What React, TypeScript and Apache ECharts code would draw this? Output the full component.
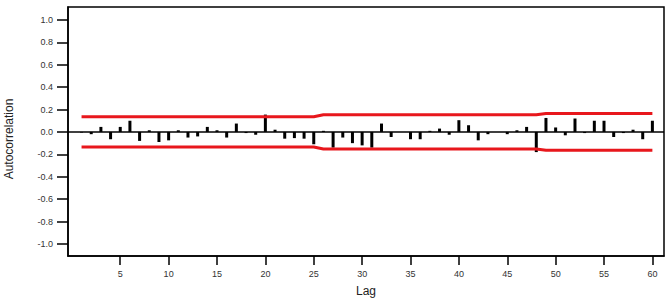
import React, { useEffect, useRef } from "react";
import * as echarts from "echarts";

const lags: number[] = Array.from({ length: 60 }, (_, i) => i + 1);

const acf: number[] = [
  -0.005, -0.02, 0.045, -0.065, 0.045, 0.1, -0.08, 0.015, -0.09, -0.075,
  0.015, -0.05, -0.04, 0.045, 0.015, -0.05, 0.075, -0.01, -0.025, 0.155,
  0.02, -0.06, -0.055, -0.06, -0.11, 0.01, -0.14, -0.05, -0.1, -0.12,
  -0.14, 0.075, -0.045, 0.0, -0.065, -0.065, 0.01, 0.03, -0.025, 0.105,
  0.06, -0.075, -0.02, 0.0, -0.02, 0.015, 0.045, -0.18, 0.125, 0.04,
  -0.03, 0.12, -0.01, 0.1, 0.1, -0.045, -0.01, 0.02, -0.065, 0.1,
];

const upperCL: number[] = [
  0.135, 0.135, 0.135, 0.135, 0.135, 0.135, 0.135, 0.135, 0.135, 0.135,
  0.135, 0.135, 0.135, 0.135, 0.135, 0.135, 0.135, 0.135, 0.135, 0.135,
  0.135, 0.135, 0.135, 0.135, 0.135, 0.153, 0.153, 0.153, 0.153, 0.153,
  0.153, 0.153, 0.153, 0.153, 0.153, 0.153, 0.153, 0.153, 0.153, 0.153,
  0.153, 0.153, 0.153, 0.153, 0.153, 0.153, 0.153, 0.153, 0.164, 0.164,
  0.164, 0.164, 0.164, 0.164, 0.164, 0.164, 0.164, 0.164, 0.164, 0.164,
];

const lowerCL: number[] = upperCL.map((v) => -v);

const xTicks: number[] = [5, 10, 15, 20, 25, 30, 35, 40, 45, 50, 55, 60];
const yTicks: number[] = [-1, -0.8, -0.6, -0.4, -0.2, 0, 0.2, 0.4, 0.6, 0.8, 1];

export default function App() {
  const ref = useRef<HTMLDivElement>(null);
  useEffect(() => {
    if (!ref.current) return;
    const chart = echarts.init(ref.current, undefined, { renderer: "svg" });
    const font = "'Liberation Sans', Arial, sans-serif";
    const red = "#e8171c";
    chart.setOption({
      animation: false,
      backgroundColor: "#fff",
      grid: {
        left: 68,
        right: 6,
        top: 7,
        bottom: 46,
        show: true,
        borderColor: "#000",
        borderWidth: 1.5,
        backgroundColor: "transparent",
      },
      xAxis: {
        type: "value",
        min: -0.4,
        max: 61.2,
        axisLine: { show: true, onZero: false, lineStyle: { color: "#000", width: 1.5 } },
        axisTick: {
          show: true,
          customValues: xTicks,
          length: 9,
          lineStyle: { color: "#000", width: 1.5 },
        },
        axisLabel: {
          customValues: xTicks,
          margin: 13,
          fontSize: 9,
          color: "#333",
          fontFamily: font,
        },
        splitLine: { show: false },
      },
      yAxis: {
        type: "value",
        min: -1.108,
        max: 1.116,
        axisLine: { show: true, onZero: false, lineStyle: { color: "#000", width: 1.5 } },
        axisTick: {
          show: true,
          customValues: yTicks,
          length: 11,
          lineStyle: { color: "#000", width: 1.5 },
        },
        axisLabel: {
          customValues: yTicks,
          margin: 15,
          fontSize: 9,
          color: "#333",
          fontFamily: font,
          formatter: (v: number) => v.toFixed(1),
        },
        splitLine: { show: false },
      },
      graphic: [
        {
          type: "text",
          x: 366,
          y: 291,
          style: {
            text: "Lag",
            fontSize: 12,
            fontFamily: font,
            fill: "#222",
            textAlign: "center",
            textVerticalAlign: "middle",
          },
        },
        {
          type: "text",
          x: 9,
          y: 139,
          rotation: Math.PI / 2,
          style: {
            text: "Autocorrelation",
            fontSize: 12,
            fontFamily: font,
            fill: "#222",
            textAlign: "center",
            textVerticalAlign: "middle",
          },
        },
      ],
      series: [
        {
          type: "bar",
          data: lags.map((l, i) => [l, acf[i]]),
          barWidth: 3,
          itemStyle: { color: "#000" },
          markLine: {
            silent: true,
            symbol: "none",
            label: { show: false },
            lineStyle: { color: "#000", width: 1.5, type: "solid" },
            data: [{ yAxis: 0 }],
          },
        },
        {
          type: "line",
          data: lags.map((l, i) => [l, upperCL[i]]),
          symbol: "none",
          lineStyle: { color: red, width: 3 },
          z: 3,
        },
        {
          type: "line",
          data: lags.map((l, i) => [l, lowerCL[i]]),
          symbol: "none",
          lineStyle: { color: red, width: 3 },
          z: 3,
        },
      ],
    });
    return () => chart.dispose();
  }, []);
  return (
    <div
      ref={ref}
      style={{ position: "absolute", left: 0, top: 0, width: 670, height: 302 }}
    />
  );
}
